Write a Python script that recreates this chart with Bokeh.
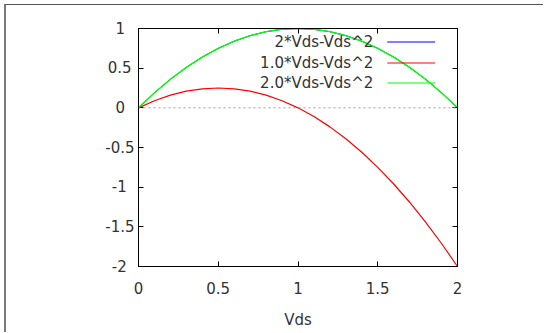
from bokeh.plotting import figure
from bokeh.models import Range1d, LinearAxis, Span, Label, FixedTicker
from bokeh.embed import file_html
from bokeh.resources import INLINE

vds = [0.0, 0.1, 0.2, 0.3, 0.4, 0.5, 0.6, 0.7, 0.8, 0.9, 1.0,
       1.1, 1.2, 1.3, 1.4, 1.5, 1.6, 1.7, 1.8, 1.9, 2.0]
series_a = [0.0, 0.19, 0.36, 0.51, 0.64, 0.75, 0.84, 0.91, 0.96, 0.99, 1.0,
            0.99, 0.96, 0.91, 0.84, 0.75, 0.64, 0.51, 0.36, 0.19, 0.0]
series_b = [0.0, 0.09, 0.16, 0.21, 0.24, 0.25, 0.24, 0.21, 0.16, 0.09, 0.0,
            -0.11, -0.24, -0.39, -0.56, -0.75, -0.96, -1.19, -1.44, -1.71, -2.0]
series_c = [0.0, 0.19, 0.36, 0.51, 0.64, 0.75, 0.84, 0.91, 0.96, 0.99, 1.0,
            0.99, 0.96, 0.91, 0.84, 0.75, 0.64, 0.51, 0.36, 0.19, 0.0]
names = ["2*Vds-Vds^2", "1.0*Vds-Vds^2", "2.0*Vds-Vds^2"]
colors = ["#0000ff", "#ff0000", "#00ff00"]
x_ticks = [0, 0.5, 1, 1.5, 2]
x_tick_labels = ["0", "0.5", "1", "1.5", "2"]
y_ticks = [-2, -1.5, -1, -0.5, 0, 0.5, 1]
y_tick_labels = ["-2", "-1.5", "-1", "-0.5", "0", "0.5", "1"]

FONT = "DejaVu Sans"
FS = "15px"
TC = "#333333"

# trailing padding so right-aligned y labels look centred (as in the gnuplot original)
NB, THIN, FIG = "\u00a0", "\u2009", "\u2007"
y_pad = {"-2": NB + THIN, "-1.5": "", "-1": NB + THIN, "-0.5": "",
         "0": FIG, "0.5": THIN, "1": FIG}

p = figure(width=539, height=328, output_backend="svg", toolbar_location=None,
           x_range=Range1d(0, 2), y_range=Range1d(-2, 1),
           min_border_left=132, min_border_right=88, min_border_top=23, min_border_bottom=67,
           x_axis_label="Vds")
p.styles = {"margin-left": "4px", "margin-top": "4px",
            "border-left": "2px solid #7a7a7a", "border-top": "1px solid #555555"}
p.grid.visible = False
p.outline_line_color = "black"
p.outline_line_width = 1
p.background_fill_color = "white"
p.border_fill_color = "white"

for ax in p.xaxis:
    ax.ticker = FixedTicker(ticks=x_ticks)
    ax.major_label_overrides = {t: s for t, s in zip(x_ticks, x_tick_labels)}
    ax.major_tick_in = 5
    ax.major_tick_out = 0
    ax.minor_tick_line_color = None
    ax.axis_line_color = "black"
    ax.major_label_text_font = FONT
    ax.major_label_text_font_size = FS
    ax.major_label_text_color = TC
    ax.major_label_standoff = 15
    ax.axis_label_text_font = FONT
    ax.axis_label_text_font_size = FS
    ax.axis_label_text_font_style = "normal"
    ax.axis_label_text_color = TC
    ax.axis_label_standoff = 14

for ax in p.yaxis:
    ax.ticker = FixedTicker(ticks=y_ticks)
    ax.major_label_overrides = {t: s + y_pad[s] for t, s in zip(y_ticks, y_tick_labels)}
    ax.major_tick_in = 5
    ax.major_tick_out = 0
    ax.minor_tick_line_color = None
    ax.axis_line_color = "black"
    ax.major_label_text_font = FONT
    ax.major_label_text_font_size = FS
    ax.major_label_text_color = TC
    ax.major_label_standoff = 4

# mirrored ticks on top and right (no labels)
top = LinearAxis(ticker=FixedTicker(ticks=x_ticks), major_tick_in=5, major_tick_out=0,
                 minor_tick_line_color=None, axis_line_color="black",
                 major_label_overrides={t: "" for t in x_ticks})
right = LinearAxis(ticker=FixedTicker(ticks=y_ticks), major_tick_in=5, major_tick_out=0,
                   minor_tick_line_color=None, axis_line_color="black",
                   major_label_overrides={t: "" for t in y_ticks})
p.add_layout(top, "above")
p.add_layout(right, "right")

# zero axis
p.add_layout(Span(location=0, dimension="width", line_color="#a0a0a0",
                  line_dash="2 3", line_width=1))

widths = [1, 1.2, 1.4]
for ys, c, w in zip([series_a, series_b, series_c], colors, widths):
    p.line(vds, ys, line_color=c, line_width=w)

# gnuplot-style key (text right-aligned, sample line to its right), placed by frame fraction
def fx(frac):
    return 0 + 2 * frac

def fy(frac):
    return 1 - 3 * frac

key_text_fx = 0.736
key_sample_fx = (0.78, 0.93)
key_rows_fy = [0.0567, 0.145, 0.229]
for name, c, ry in zip(names, colors, key_rows_fy):
    p.add_layout(Label(x=fx(key_text_fx), y=fy(ry), text=name, text_align="right",
                       text_baseline="middle", text_font=FONT, text_font_size=FS,
                       text_color=TC))
    p.line([fx(key_sample_fx[0]), fx(key_sample_fx[1])], [fy(ry), fy(ry)],
           line_color=c, line_width=1.2)

open("out.html", "w").write(file_html(p, INLINE))
